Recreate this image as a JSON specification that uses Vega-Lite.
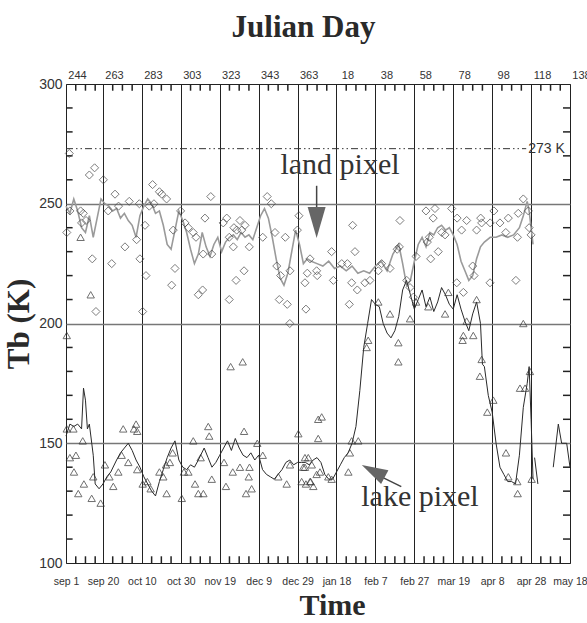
{
  "$schema": "https://vega.github.io/schema/vega-lite/v6.json",
  "width": 504,
  "height": 479,
  "autosize": "none",
  "padding": {"left": 66, "top": 84, "right": 17, "bottom": 60},
  "background": "white",
  "config": {
    "view": {"stroke": "#222", "strokeWidth": 1},
    "axis": {"labelFont": "Liberation Sans", "labelColor": "#333", "titleFont": "Liberation Serif", "titleFontWeight": "bold", "titleColor": "#2a2a2a", "labelOverlap": false, "labelFlush": false}
  },
  "datasets": {
    "minorX": [{"d":249},{"d":254},{"d":259},{"d":268},{"d":273},{"d":278},{"d":288},{"d":293},{"d":298},{"d":308},{"d":313},{"d":318},{"d":328},{"d":333},{"d":338},{"d":348},{"d":353},{"d":358},{"d":368},{"d":373},{"d":378},{"d":388},{"d":393},{"d":398},{"d":408},{"d":413},{"d":418},{"d":428},{"d":433},{"d":438},{"d":448},{"d":453},{"d":458},{"d":468},{"d":473},{"d":478},{"d":488},{"d":493},{"d":498}],
    "minorY": [{"k":110},{"k":120},{"k":130},{"k":140},{"k":160},{"k":170},{"k":180},{"k":190},{"k":210},{"k":220},{"k":230},{"k":240},{"k":260},{"k":270},{"k":280},{"k":290}],
    "landPts": [
      {"d":245.7,"k":271},{"d":256,"k":262},{"d":258.7,"k":265},{"d":263.2,"k":260},{"d":269.2,"k":254},{"d":276.5,"k":251},{"d":281.7,"k":250},{"d":288.5,"k":258},{"d":292,"k":255},{"d":293.2,"k":254},{"d":295.7,"k":252},{"d":246,"k":247},{"d":251.5,"k":247},{"d":252.9,"k":246},{"d":254.3,"k":243},{"d":252,"k":242},{"d":244.4,"k":238},{"d":265.7,"k":247},{"d":271,"k":249},{"d":286.8,"k":249},{"d":289.2,"k":250},{"d":284.6,"k":241},{"d":302.9,"k":247},{"d":315.4,"k":244},{"d":299.1,"k":239},{"d":274.3,"k":232},{"d":280.3,"k":235},{"d":257.5,"k":227},{"d":267.5,"k":225},{"d":282,"k":227},{"d":285.1,"k":220},{"d":300,"k":223},{"d":298.3,"k":216},{"d":312,"k":212},{"d":314.2,"k":214},{"d":259.4,"k":205},{"d":283.4,"k":205},{"d":305.2,"k":242},{"d":306.9,"k":240},{"d":309.4,"k":238},{"d":310.8,"k":236},{"d":314.5,"k":229},{"d":318.9,"k":229},{"d":318.4,"k":253},{"d":324.8,"k":242},{"d":326.6,"k":244},{"d":330.3,"k":240},{"d":331.7,"k":239},{"d":334.3,"k":239},{"d":336,"k":241},{"d":333.4,"k":243},{"d":327.9,"k":236},{"d":330,"k":232},{"d":331.4,"k":218},{"d":335.5,"k":222},{"d":327.9,"k":210},{"d":338.2,"k":232},{"d":345.1,"k":236},{"d":347.4,"k":253},{"d":349.5,"k":250},{"d":351.4,"k":238},{"d":356.7,"k":236},{"d":352.3,"k":224},{"d":354.3,"k":220},{"d":359.1,"k":222},{"d":353.6,"k":210},{"d":357.7,"k":208},{"d":367.3,"k":206},{"d":362.9,"k":239},{"d":368,"k":221},{"d":372.8,"k":222},{"d":366.8,"k":217},{"d":363.7,"k":245},{"d":359,"k":200},
      {"d":391.3,"k":241},{"d":415.6,"k":243},{"d":429,"k":247},{"d":433.6,"k":248},{"d":432.7,"k":244},{"d":442.2,"k":248},{"d":449.9,"k":243},{"d":457.1,"k":244},{"d":463.9,"k":247},{"d":471.3,"k":244},{"d":476.4,"k":246},{"d":481.6,"k":247},{"d":479,"k":252},{"d":380.5,"k":230},{"d":392.5,"k":230},{"d":369.4,"k":227},{"d":373.1,"k":220},{"d":381.4,"k":218},{"d":385.7,"k":225},{"d":388.6,"k":225},{"d":389.6,"k":208},{"d":393.7,"k":214},{"d":390.8,"k":217},{"d":397.6,"k":217},{"d":400.2,"k":218},{"d":406.2,"k":225},{"d":410.5,"k":223},{"d":404.5,"k":222},{"d":415.3,"k":232},{"d":414.2,"k":231},{"d":423.9,"k":228},{"d":419.1,"k":218},{"d":420.8,"k":215},{"d":422.5,"k":211},{"d":429.7,"k":234},{"d":430.7,"k":236},{"d":435.3,"k":230},{"d":431.4,"k":227},{"d":438.8,"k":237},{"d":437.1,"k":238},{"d":447.3,"k":239},{"d":455,"k":239},{"d":453,"k":224},{"d":453.7,"k":220},{"d":444.8,"k":217},{"d":448.2,"k":213},{"d":457.6,"k":242},{"d":462,"k":242},{"d":467,"k":242},{"d":470,"k":238},{"d":476,"k":236},{"d":483,"k":237},{"d":482,"k":240},{"d":475.2,"k":218},{"d":461.9,"k":217},{"d":445,"k":244}
    ],
    "lakePts": [
      {"d":244.4,"k":195},{"d":251.5,"k":236},{"d":256.7,"k":212},{"d":328.6,"k":182},{"d":334.8,"k":184},{"d":273.4,"k":156},{"d":278.9,"k":156},{"d":280.6,"k":155},{"d":280,"k":158},{"d":244.4,"k":156},{"d":247.8,"k":156},{"d":252.6,"k":151},{"d":246,"k":144},{"d":249.1,"k":145},{"d":248.1,"k":138},{"d":253.2,"k":133},{"d":250.3,"k":129},{"d":257.2,"k":127},{"d":261.8,"k":125},{"d":258,"k":136},{"d":264,"k":141},{"d":266.3,"k":136},{"d":270.9,"k":138},{"d":268.3,"k":132},{"d":272.6,"k":145},{"d":276,"k":142},{"d":280.6,"k":139},{"d":283.4,"k":133},{"d":285.8,"k":134},{"d":287.5,"k":131},{"d":295.7,"k":129},{"d":292,"k":138},{"d":295.4,"k":141},{"d":297.4,"k":142},{"d":298.8,"k":146},{"d":294,"k":136},{"d":303.5,"k":127},{"d":309.4,"k":151},{"d":304.6,"k":138},{"d":306.9,"k":138},{"d":310.3,"k":133},{"d":312,"k":129},{"d":314.6,"k":129},{"d":313.2,"k":144},{"d":317.1,"k":157},{"d":317.6,"k":153},{"d":318.9,"k":135},{"d":325.2,"k":142},{"d":326.2,"k":132},{"d":329.7,"k":138},{"d":333.4,"k":140},{"d":335.5,"k":155},{"d":337.9,"k":136},{"d":338.3,"k":140},{"d":336.5,"k":129},{"d":339.4,"k":131},{"d":345.1,"k":145},{"d":342.3,"k":150},{"d":353.1,"k":136},{"d":357.4,"k":133},{"d":359.1,"k":141},{"d":363.4,"k":154},{"d":367.3,"k":133},{"d":369.7,"k":134},{"d":365.9,"k":140},{"d":368.5,"k":144},{"d":373.6,"k":160},{"d":372.8,"k":137},
      {"d":398.5,"k":190},{"d":414.8,"k":184},{"d":414.8,"k":192},{"d":375.4,"k":161},{"d":373.6,"k":152},{"d":366.8,"k":144},{"d":370.3,"k":141},{"d":366.8,"k":140},{"d":365.1,"k":134},{"d":369.4,"k":134},{"d":371.1,"k":132},{"d":374.5,"k":138},{"d":378.8,"k":136},{"d":380.5,"k":135},{"d":389.9,"k":146},{"d":389.1,"k":138},{"d":390.8,"k":151},{"d":394.2,"k":151},{"d":457.6,"k":185},{"d":456.7,"k":178},{"d":463.6,"k":168},{"d":460.5,"k":163},{"d":470.1,"k":146},{"d":471.3,"k":136},{"d":475.9,"k":134},{"d":476.1,"k":129},{"d":477.3,"k":173},{"d":479.9,"k":173},{"d":482.4,"k":180},{"d":483.3,"k":135},{"d":399.3,"k":193},{"d":447.8,"k":193},{"d":453.3,"k":195},{"d":479,"k":200},{"d":404.5,"k":209},{"d":410.5,"k":204},{"d":420.8,"k":202},{"d":430.2,"k":207},{"d":438.8,"k":204},{"d":440.5,"k":213},{"d":449.9,"k":201},{"d":423.9,"k":209},{"d":455,"k":210},{"d":448.2,"k":195}
    ],
    "landLine": [
      {"d":244,"k":249},{"d":246,"k":246},{"d":248,"k":252},{"d":250,"k":247},{"d":252,"k":240},{"d":254,"k":238},{"d":256,"k":245},{"d":258,"k":236},{"d":260,"k":244},{"d":262,"k":252},{"d":264,"k":250},{"d":266,"k":249},{"d":268,"k":247},{"d":270,"k":248},{"d":272,"k":244},{"d":274,"k":246},{"d":276,"k":243},{"d":278,"k":241},{"d":280,"k":236},{"d":282,"k":245},{"d":284,"k":249},{"d":286,"k":252},{"d":288,"k":250},{"d":290,"k":246},{"d":292,"k":247},{"d":294,"k":241},{"d":296,"k":233},{"d":298,"k":231},{"d":300,"k":239},{"d":302,"k":247},{"d":304,"k":243},{"d":306,"k":238},{"d":308,"k":231},{"d":310,"k":225},{"d":312,"k":229},{"d":314,"k":238},{"d":316,"k":232},{"d":318,"k":228},{"d":320,"k":233},{"d":322,"k":236},{"d":324,"k":230},{"d":326,"k":234},{"d":328,"k":236},{"d":330,"k":237},{"d":332,"k":235},{"d":334,"k":238},{"d":336,"k":236},{"d":338,"k":237},{"d":340,"k":235},{"d":342,"k":240},{"d":344,"k":245},{"d":346,"k":248},{"d":348,"k":244},{"d":350,"k":236},{"d":352,"k":227},{"d":354,"k":219},{"d":356,"k":216},{"d":358,"k":221},{"d":360,"k":230},{"d":362,"k":239},{"d":364,"k":233},{"d":366,"k":225},{"d":368,"k":227},{"d":370,"k":226},{"d":373,"k":225},{"d":376,"k":224},{"d":379,"k":226},{"d":382,"k":223},{"d":385,"k":224},{"d":388,"k":222},{"d":391,"k":224},{"d":394,"k":221},{"d":397,"k":222},{"d":400,"k":221},{"d":403,"k":224},{"d":406,"k":226},{"d":409,"k":222},{"d":412,"k":229},{"d":415,"k":233},{"d":417,"k":225},{"d":419,"k":216},{"d":421,"k":218},{"d":423,"k":226},{"d":425,"k":233},{"d":427,"k":236},{"d":429,"k":232},{"d":431,"k":238},{"d":433,"k":237},{"d":435,"k":240},{"d":437,"k":241},{"d":439,"k":239},{"d":441,"k":240},{"d":443,"k":237},{"d":445,"k":233},{"d":447,"k":226},{"d":449,"k":222},{"d":451,"k":218},{"d":453,"k":220},{"d":455,"k":227},{"d":457,"k":232},{"d":459,"k":234},{"d":462,"k":236},{"d":465,"k":236},{"d":468,"k":237},{"d":471,"k":236},{"d":474,"k":237},{"d":477,"k":240},{"d":479,"k":245},{"d":481,"k":251},{"d":482,"k":247},{"d":484,"k":233}
    ],
    "lakeLine": [
      {"g":1,"d":244,"k":153},{"g":1,"d":246,"k":158},{"g":1,"d":248,"k":157},{"g":1,"d":250,"k":158},{"g":1,"d":252,"k":156},{"g":1,"d":253,"k":173},{"g":1,"d":254,"k":168},{"g":1,"d":255,"k":156},{"g":1,"d":256,"k":158},{"g":1,"d":258,"k":145},{"g":1,"d":259,"k":133},{"g":1,"d":261,"k":131},{"g":1,"d":263,"k":133},{"g":1,"d":265,"k":136},{"g":1,"d":267,"k":138},{"g":1,"d":270,"k":143},{"g":1,"d":272,"k":146},{"g":1,"d":274,"k":148},{"g":1,"d":276,"k":150},{"g":1,"d":278,"k":147},{"g":1,"d":280,"k":143},{"g":1,"d":282,"k":140},{"g":1,"d":284,"k":136},{"g":1,"d":286,"k":133},{"g":1,"d":288,"k":130},{"g":1,"d":290,"k":128},{"g":1,"d":292,"k":134},{"g":1,"d":294,"k":139},{"g":1,"d":296,"k":144},{"g":1,"d":298,"k":148},{"g":1,"d":300,"k":151},{"g":1,"d":302,"k":143},{"g":1,"d":304,"k":140},{"g":1,"d":306,"k":139},{"g":1,"d":308,"k":141},{"g":1,"d":310,"k":140},{"g":1,"d":312,"k":143},{"g":1,"d":315,"k":148},{"g":1,"d":317,"k":144},{"g":1,"d":319,"k":140},{"g":1,"d":321,"k":142},{"g":1,"d":323,"k":145},{"g":1,"d":325,"k":148},{"g":1,"d":327,"k":151},{"g":1,"d":329,"k":147},{"g":1,"d":331,"k":152},{"g":1,"d":333,"k":148},{"g":1,"d":335,"k":145},{"g":1,"d":337,"k":144},{"g":1,"d":339,"k":146},{"g":1,"d":341,"k":143},{"g":1,"d":343,"k":145},{"g":1,"d":345,"k":139},{"g":1,"d":347,"k":137},{"g":1,"d":349,"k":136},{"g":1,"d":351,"k":135},{"g":1,"d":353,"k":137},{"g":1,"d":355,"k":139},{"g":1,"d":357,"k":142},{"g":1,"d":359,"k":143},{"g":1,"d":361,"k":141},{"g":1,"d":363,"k":142},{"g":1,"d":365,"k":142},{"g":1,"d":367,"k":142},{"g":1,"d":369,"k":141},{"g":1,"d":371,"k":143},{"g":1,"d":373,"k":144},{"g":1,"d":375,"k":142},{"g":1,"d":377,"k":137},{"g":1,"d":379,"k":135},{"g":1,"d":381,"k":135},{"g":1,"d":383,"k":138},{"g":1,"d":385,"k":141},{"g":1,"d":387,"k":144},{"g":1,"d":389,"k":146},{"g":1,"d":391,"k":150},{"g":1,"d":393,"k":157},{"g":1,"d":395,"k":172},{"g":1,"d":397,"k":190},{"g":1,"d":399,"k":200},{"g":1,"d":401,"k":210},{"g":1,"d":403,"k":208},{"g":1,"d":405,"k":207},{"g":1,"d":407,"k":200},{"g":1,"d":409,"k":196},{"g":1,"d":411,"k":194},{"g":1,"d":413,"k":197},{"g":1,"d":415,"k":203},{"g":1,"d":417,"k":214},{"g":1,"d":419,"k":218},{"g":1,"d":421,"k":212},{"g":1,"d":423,"k":206},{"g":1,"d":425,"k":210},{"g":1,"d":427,"k":214},{"g":1,"d":429,"k":207},{"g":1,"d":431,"k":211},{"g":1,"d":433,"k":205},{"g":1,"d":435,"k":209},{"g":1,"d":437,"k":215},{"g":1,"d":439,"k":212},{"g":1,"d":441,"k":208},{"g":1,"d":443,"k":206},{"g":1,"d":445,"k":212},{"g":1,"d":447,"k":206},{"g":1,"d":449,"k":201},{"g":1,"d":451,"k":197},{"g":1,"d":453,"k":204},{"g":1,"d":455,"k":209},{"g":1,"d":457,"k":200},{"g":1,"d":458,"k":183},{"g":1,"d":459,"k":182},{"g":1,"d":461,"k":170},{"g":1,"d":463,"k":163},{"g":1,"d":465,"k":150},{"g":1,"d":467,"k":140},{"g":1,"d":469,"k":137},{"g":1,"d":471,"k":134},{"g":1,"d":473,"k":134},{"g":1,"d":475,"k":133},{"g":1,"d":477,"k":145},{"g":1,"d":479,"k":165},{"g":1,"d":481,"k":175},{"g":1,"d":482,"k":182},{"g":1,"d":483,"k":160},{"g":1,"d":484,"k":135},
      {"g":2,"d":484.8,"k":144},{"g":2,"d":486.5,"k":133},
      {"g":3,"d":494.4,"k":140},{"g":3,"d":497,"k":158},{"g":3,"d":498.7,"k":150},{"g":3,"d":501.3,"k":150},{"g":3,"d":503,"k":140}
    ],
    "labels": [
      {"d":384.8,"k":266,"t":"land pixel"},
      {"d":425.9,"k":127.6,"t":"lake pixel"}
    ]
  },
  "resolve": {"axis": {"x": "independent", "y": "independent"}},
  "layer": [
    {
      "data": {"values": [{"k": 273, "d1": 244, "d2": 480.5}]},
      "mark": {"type": "rule", "stroke": "#333", "strokeWidth": 1, "strokeDash": [7, 3, 1.5, 3, 1.5, 3]},
      "encoding": {
        "x": {"field": "d1", "type": "quantitative", "scale": {"domain": [244, 503], "nice": false, "zero": false},
          "axis": {
            "orient": "bottom",
            "values": [244,263,283,303,323,343,363,383,403,423,443,463,483,503],
            "labelExpr": "['sep 1','sep 20','oct 10','oct 30','nov 19','dec 9','dec 29','jan 18','feb 7','feb 27','mar 19','apr 8','apr 28','may 18'][indexof([244,263,283,303,323,343,363,383,403,423,443,463,483,503], datum.value)]",
            "ticks": false, "domain": false,
            "grid": true, "gridColor": "#222", "gridWidth": 1,
            "labelFontSize": 10.5, "labelPadding": 13,
            "title": "Time", "titleFontSize": 30, "titlePadding": 4, "titleX": 266
          }
        },
        "x2": {"field": "d2"},
        "y": {"field": "k", "type": "quantitative", "scale": {"domain": [100, 300], "nice": false, "zero": false},
          "axis": {
            "orient": "left",
            "values": [100,150,200,250,300],
            "ticks": false, "domain": false,
            "grid": true, "gridColor": "#777", "gridWidth": 1.5,
            "gridOpacity": {"condition": {"test": "datum.value == 100 || datum.value == 300", "value": 0}, "value": 1},
            "labelFontSize": 14, "labelPadding": 4,
            "title": "Tb (K)", "titleFontSize": 31, "titlePadding": 3
          }
        }
      }
    },
    {
      "data": {"name": "landLine"},
      "mark": {"type": "line", "stroke": "#9a9a9a", "strokeWidth": 1.6},
      "encoding": {
        "x": {"field": "d", "type": "quantitative", "scale": {"domain": [244, 503], "nice": false, "zero": false},
          "axis": {
            "orient": "top",
            "values": [244,263,283,303,323,343,363,383,403,423,443,463,483,503],
            "labelExpr": "datum.value > 365 ? '' + (datum.value - 365) : '' + datum.value",
            "ticks": false, "domain": false, "grid": false,
            "labelFontSize": 11, "labelPadding": 4, "labelOffset": 11,
            "title": "Julian Day", "titleFontSize": 31, "titlePadding": 26, "titleX": 237
          }
        },
        "y": {"field": "k", "type": "quantitative", "scale": {"domain": [100, 300], "nice": false, "zero": false}, "axis": null}
      }
    },
    {
      "data": {"name": "minorX"},
      "mark": {"type": "rule", "stroke": "#222", "strokeWidth": 1.5},
      "encoding": {
        "x": {"field": "d", "type": "quantitative", "scale": {"domain": [244, 503], "nice": false, "zero": false}, "axis": null},
        "y": {"datum": 100, "type": "quantitative", "scale": {"domain": [100, 300], "nice": false, "zero": false}, "axis": null},
        "y2": {"datum": 102.8}
      }
    },
    {
      "data": {"name": "minorX"},
      "mark": {"type": "rule", "stroke": "#222", "strokeWidth": 1.5},
      "encoding": {
        "x": {"field": "d", "type": "quantitative", "scale": {"domain": [244, 503], "nice": false, "zero": false}, "axis": null},
        "y": {"datum": 297.2, "type": "quantitative", "scale": {"domain": [100, 300], "nice": false, "zero": false}, "axis": null},
        "y2": {"datum": 300}
      }
    },
    {
      "data": {"name": "minorY"},
      "mark": {"type": "rule", "stroke": "#222", "strokeWidth": 1.5},
      "encoding": {
        "y": {"field": "k", "type": "quantitative", "scale": {"domain": [100, 300], "nice": false, "zero": false}, "axis": null},
        "x": {"datum": 244, "type": "quantitative", "scale": {"domain": [244, 503], "nice": false, "zero": false}, "axis": null},
        "x2": {"datum": 247.4}
      }
    },
    {
      "data": {"name": "minorY"},
      "mark": {"type": "rule", "stroke": "#222", "strokeWidth": 1.5},
      "encoding": {
        "y": {"field": "k", "type": "quantitative", "scale": {"domain": [100, 300], "nice": false, "zero": false}, "axis": null},
        "x": {"datum": 499.4, "type": "quantitative", "scale": {"domain": [244, 503], "nice": false, "zero": false}, "axis": null},
        "x2": {"datum": 503}
      }
    },
    {
      "data": {"name": "lakeLine"},
      "mark": {"type": "line", "stroke": "#2a2a2a", "strokeWidth": 1},
      "encoding": {
        "x": {"field": "d", "type": "quantitative", "scale": {"domain": [244, 503], "nice": false, "zero": false}, "axis": null},
        "y": {"field": "k", "type": "quantitative", "scale": {"domain": [100, 300], "nice": false, "zero": false}, "axis": null},
        "detail": {"field": "g", "type": "nominal"}
      }
    },
    {
      "data": {"name": "landPts"},
      "mark": {"type": "point", "shape": "diamond", "filled": false, "size": 65, "stroke": "#444", "strokeWidth": 1},
      "encoding": {
        "x": {"field": "d", "type": "quantitative", "scale": {"domain": [244, 503], "nice": false, "zero": false}, "axis": null},
        "y": {"field": "k", "type": "quantitative", "scale": {"domain": [100, 300], "nice": false, "zero": false}, "axis": null}
      }
    },
    {
      "data": {"name": "lakePts"},
      "mark": {"type": "point", "shape": "triangle-up", "filled": false, "size": 55, "stroke": "#333", "strokeWidth": 1},
      "encoding": {
        "x": {"field": "d", "type": "quantitative", "scale": {"domain": [244, 503], "nice": false, "zero": false}, "axis": null},
        "y": {"field": "k", "type": "quantitative", "scale": {"domain": [100, 300], "nice": false, "zero": false}, "axis": null}
      }
    },
    {
      "data": {"values": [{"d": 481.5, "k": 273, "t": "273 K"}]},
      "mark": {"type": "text", "align": "left", "baseline": "middle", "font": "Liberation Sans", "fontSize": 14, "color": "#333"},
      "encoding": {
        "x": {"field": "d", "type": "quantitative", "scale": {"domain": [244, 503], "nice": false, "zero": false}, "axis": null},
        "y": {"field": "k", "type": "quantitative", "scale": {"domain": [100, 300], "nice": false, "zero": false}, "axis": null},
        "text": {"field": "t"}
      }
    },
    {
      "data": {"name": "labels"},
      "mark": {"type": "text", "align": "center", "baseline": "middle", "font": "Liberation Serif", "fontSize": 30, "color": "#333"},
      "encoding": {
        "x": {"field": "d", "type": "quantitative", "scale": {"domain": [244, 503], "nice": false, "zero": false}, "axis": null},
        "y": {"field": "k", "type": "quantitative", "scale": {"domain": [100, 300], "nice": false, "zero": false}, "axis": null},
        "text": {"field": "t"}
      }
    },
    {
      "data": {"values": [{"d1": 372.8, "k1": 257.5, "d2": 372.8, "k2": 245}, {"d1": 416.3, "k1": 131.9, "d2": 405.3, "k2": 136.3}]},
      "mark": {"type": "rule", "stroke": "#444", "strokeWidth": 1.5},
      "encoding": {
        "x": {"field": "d1", "type": "quantitative", "scale": {"domain": [244, 503], "nice": false, "zero": false}, "axis": null},
        "y": {"field": "k1", "type": "quantitative", "scale": {"domain": [100, 300], "nice": false, "zero": false}, "axis": null},
        "x2": {"field": "d2"},
        "y2": {"field": "k2"}
      }
    },
    {
      "data": {"values": [{"d": 372.8, "k": 242.2}]},
      "mark": {"type": "point", "shape": "M-0.58,-1L0.58,-1L0,1Z", "filled": true, "size": 961, "fill": "#666", "opacity": 1, "strokeWidth": 0},
      "encoding": {
        "x": {"field": "d", "type": "quantitative", "scale": {"domain": [244, 503], "nice": false, "zero": false}, "axis": null},
        "y": {"field": "k", "type": "quantitative", "scale": {"domain": [100, 300], "nice": false, "zero": false}, "axis": null}
      }
    },
    {
      "data": {"values": [{"d": 401.9, "k": 138.4}]},
      "mark": {"type": "point", "shape": "M-0.6,-1L0.6,-1L0,1Z", "filled": true, "size": 676, "angle": 118, "fill": "#666", "opacity": 1, "strokeWidth": 0},
      "encoding": {
        "x": {"field": "d", "type": "quantitative", "scale": {"domain": [244, 503], "nice": false, "zero": false}, "axis": null},
        "y": {"field": "k", "type": "quantitative", "scale": {"domain": [100, 300], "nice": false, "zero": false}, "axis": null}
      }
    }
  ]
}
